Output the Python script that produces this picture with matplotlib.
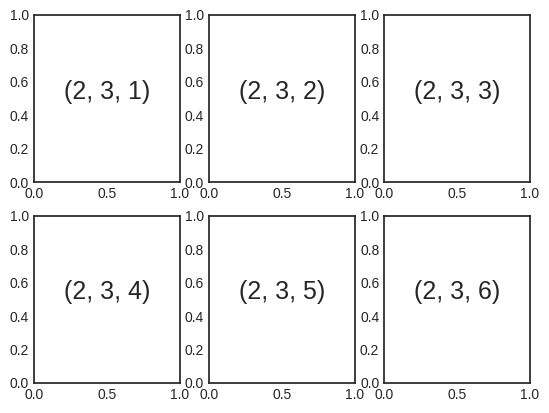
import matplotlib
matplotlib.use("Agg")
import matplotlib.pyplot as plt

plt.style.use('seaborn-v0_8-white')

nrows = 2
ncols = 3
indices = [1, 2, 3, 4, 5, 6]

fig = plt.figure(figsize=(5.49, 4.13), dpi=100)
fig.subplots_adjust(left=34/549, right=530/549, top=1-15/413, bottom=1-383/413,
                    wspace=0.2, hspace=0.2)
for i in indices:
    ax = fig.add_subplot(nrows, ncols, i)
    ax.text(0.5, 0.5, str((nrows, ncols, i)), fontsize=18, ha='center')

fig.savefig('out.png', dpi=100)
